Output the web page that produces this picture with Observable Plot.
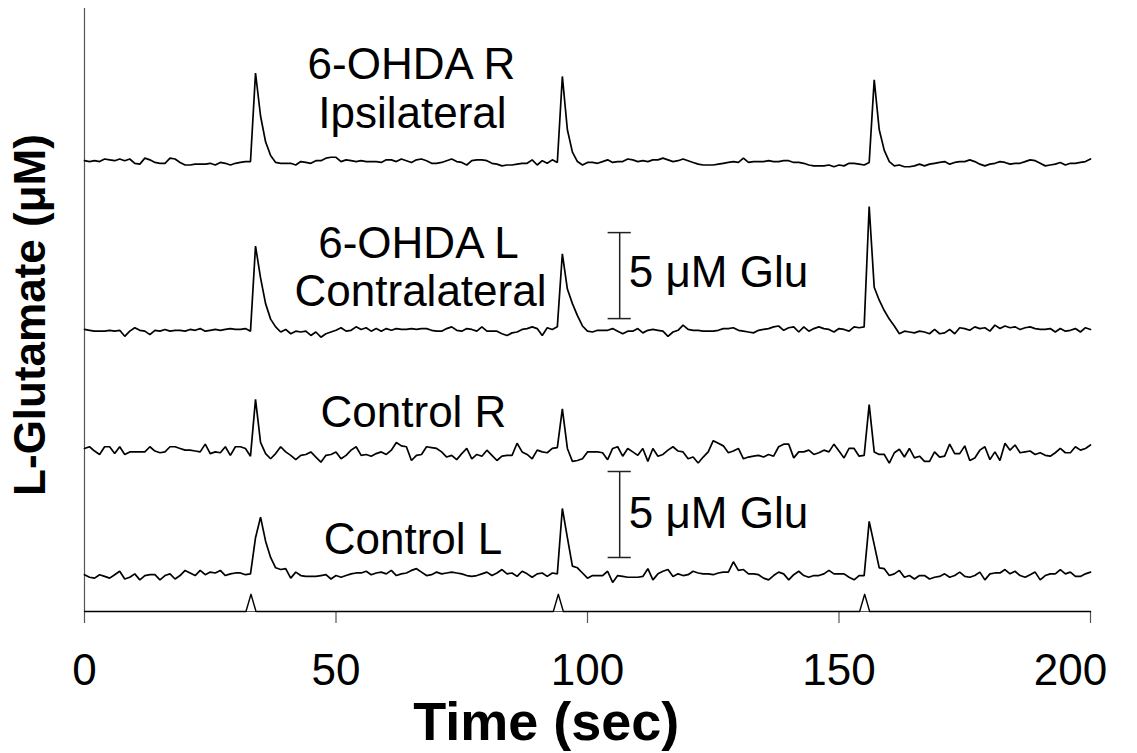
<!DOCTYPE html>
<html>
<head>
<meta charset="utf-8">
<script src="https://cdn.jsdelivr.net/npm/d3@7"></script>
<script src="https://cdn.jsdelivr.net/npm/@observablehq/plot@0.6"></script>
<style>
  html, body { margin: 0; padding: 0; background: #fff; }
  #chart { width: 1137px; height: 753px; }
</style>
</head>
<body>
<div id="chart"></div>
<script>
// L-glutamate recordings, μM above each trace's own baseline, one sample per second (0–200 s)
const time = d3.range(0, 201);

const ohdaR = [
  0.0, -0.05, 0.0, -0.05, 0.1, 0.05, 0.0, 0.1, 0.0, 0.1,
  -0.15, -0.2, 0.15, 0.05, -0.1, -0.15, -0.15, 0.15, 0.1, -0.1,
  -0.25, -0.25, -0.2, -0.2, -0.2, -0.15, -0.25, -0.1, -0.15, -0.25,
  -0.15, -0.1, -0.05, -0.05, 5.1, 2.6, 1.1, 0.3, -0.1, -0.15,
  -0.15, -0.15, -0.25, -0.05, -0.1, -0.15, 0.0, 0.0, 0.15, 0.2,
  0.2, -0.05, 0.05, 0.0, -0.05, 0.0, -0.05, -0.05, -0.05, -0.1,
  0.05, 0.05, -0.05, 0.1, 0.0, -0.1, 0.05, 0.1, 0.0, -0.15,
  -0.15, -0.1, 0.0, 0.1, -0.05, -0.1, -0.25, 0.0, 0.05, 0.05,
  0.0, -0.15, -0.2, -0.3, -0.25, -0.25, -0.2, -0.15, -0.15, 0.05,
  -0.25, 0.0, -0.15, 0.05, -0.1, 4.9, 1.8, 0.5, -0.05, -0.25,
  -0.1, -0.1, -0.15, -0.05, 0.05, -0.1, -0.05, -0.05, 0.1, 0.05,
  -0.05, 0.0, -0.05, 0.05, 0.05, 0.15, 0.05, -0.05, 0.0, 0.1,
  0.0, -0.1, -0.2, -0.25, -0.25, -0.25, -0.2, -0.15, -0.1, -0.05,
  -0.1, 0.15, -0.1, -0.05, -0.05, -0.05, 0.0, -0.05, -0.05, 0.0,
  0.0, -0.1, -0.1, -0.15, -0.25, -0.3, -0.3, -0.3, -0.25, -0.35,
  -0.25, -0.3, -0.15, -0.15, -0.2, -0.25, -0.1, 4.7, 1.8, 0.6,
  -0.05, -0.3, -0.25, -0.35, -0.35, -0.3, -0.2, -0.3, -0.2, -0.15,
  -0.1, -0.05, -0.2, -0.1, -0.05, -0.05, 0.05, -0.05, -0.2, -0.3,
  -0.2, -0.15, -0.05, -0.1, -0.2, -0.15, -0.15, -0.05, 0.05, 0.0,
  -0.15, -0.3, -0.25, -0.2, -0.1, -0.25, -0.15, -0.15, -0.1, -0.05,
  0.1
];

const ohdaL = [
  0.0, -0.05, -0.1, -0.1, -0.1, -0.05, -0.1, -0.05, -0.4, -0.1,
  0.1, -0.05, -0.1, -0.3, -0.05, -0.1, 0.0, -0.1, -0.05, -0.05,
  -0.1, 0.0, -0.05, 0.05, -0.1, -0.05, 0.0, -0.05, 0.0, 0.05,
  0.0, 0.0, 0.05, -0.1, 4.85, 3.0, 1.5, 0.6, 0.15, -0.15,
  0.0, -0.25, -0.1, -0.15, -0.1, -0.35, -0.15, -0.45, -0.25, -0.15,
  -0.05, 0.1, -0.1, -0.05, 0.15, 0.0, 0.1, -0.1, 0.05, -0.1,
  0.05, -0.05, 0.05, 0.0, 0.0, 0.05, 0.0, 0.05, 0.05, -0.05,
  -0.1, -0.1, 0.05, 0.15, -0.05, -0.1, 0.05, 0.0, -0.1, 0.15,
  -0.1, -0.1, -0.1, -0.25, -0.35, -0.2, -0.15, 0.0, 0.05, 0.15,
  0.05, -0.35, 0.1, 0.0, 0.15, 4.4, 2.35, 1.5, 0.8, 0.2,
  -0.1, -0.15, -0.05, -0.05, -0.05, 0.05, -0.1, -0.25, -0.1, -0.1,
  0.05, -0.2, -0.05, 0.0, -0.05, -0.1, -0.4, -0.15, -0.05, 0.25,
  0.0, -0.05, -0.05, -0.1, -0.1, -0.1, -0.05, 0.05, 0.05, 0.1,
  -0.05, -0.1, -0.15, -0.2, -0.05, 0.0, 0.05, 0.15, 0.2, -0.05,
  0.1, 0.15, -0.15, 0.15, -0.1, 0.05, 0.15, 0.05, 0.0, -0.15,
  0.05, 0.0, -0.1, 0.15, 0.1, 0.15, 7.15, 2.45, 1.7, 1.1,
  0.6, 0.2, -0.25, -0.1, -0.15, -0.2, -0.1, -0.15, -0.25, 0.0,
  -0.25, -0.2, 0.0, -0.25, 0.1, 0.05, -0.05, 0.15, 0.05, 0.1,
  -0.1, 0.25, 0.05, 0.2, 0.1, 0.15, 0.0, 0.1, 0.15, 0.05,
  0.0, 0.0, 0.05, -0.15, 0.05, -0.1, -0.05, 0.05, -0.15, 0.1,
  0.0
];

const controlR = [
  0.0, 0.1, -0.15, -0.35, 0.1, 0.1, -0.3, 0.1, -0.35, -0.2,
  -0.2, -0.2, -0.2, 0.1, -0.15, -0.25, -0.2, 0.1, 0.1, 0.0,
  -0.1, -0.1, -0.15, -0.2, 0.25, -0.3, -0.2, -0.25, 0.1, -0.4,
  0.1, 0.1, 0.0, -0.45, 2.85, 0.35, -0.3, -0.6, -0.3, 0.1,
  -0.2, -0.4, -0.65, -0.4, -0.35, -0.2, -0.5, -0.8, -0.4, -0.35,
  -0.2, -0.6, -0.4, -0.1, 0.1, -0.4, -0.35, -0.45, -0.3, -0.2,
  -0.35, -0.1, 0.35, 0.15, 0.1, -0.7, -0.4, -0.35, 0.1, 0.05,
  0.0, -0.2, -0.5, -0.4, -0.65, -0.3, 0.0, -0.6, -0.35, -0.45,
  -0.1, -0.4, -0.7, -0.45, -0.4, -0.4, 0.3, -0.2, -0.35, -0.6,
  -0.1, -0.2, -0.25, 0.0, 0.05, 2.3, 0.0, -0.75, -0.7, -0.6,
  -0.2, -0.2, -0.2, -0.25, -0.65, 0.0, 0.1, -0.45, 0.0, -0.2,
  -0.4, 0.0, -0.75, 0.0, -0.45, -0.35, -0.1, 0.1, -0.15, -0.2,
  -0.6, -0.5, -0.85, -0.5, -0.2, 0.45, 0.3, 0.15, -0.25, -0.15,
  0.0, -0.6, -0.5, -0.45, -0.4, -0.5, -0.35, -0.45, 0.1, 0.25,
  0.25, -0.55, -0.2, -0.2, -0.1, -0.35, -0.25, -0.1, -0.2, 0.25,
  -0.15, -0.55, 0.0, 0.0, -0.45, -0.4, 2.55, -0.2, -0.35, -0.35,
  -0.85, -0.25, -0.05, -0.5, 0.0, -0.55, -0.45, -0.75, -0.75, -0.2,
  -0.5, -0.45, 0.25, -0.3, -0.3, 0.15, -0.7, -0.55, -0.1, 0.1,
  -0.65, -0.2, -0.7, 0.3, -0.1, 0.2, -0.25, -0.2, -0.15, -0.35,
  -0.25, -0.4, -0.45, -0.25, 0.0, -0.25, -0.25, 0.1, -0.1, 0.0,
  0.2
];

const controlL = [
  0.05, -0.1, -0.15, 0.05, -0.05, -0.15, 0.05, 0.25, -0.2, -0.1,
  0.1, -0.25, 0.0, 0.05, 0.05, -0.25, 0.0, 0.1, -0.2, 0.0,
  0.3, 0.15, 0.0, 0.3, 0.05, 0.2, 0.15, 0.3, 0.0, 0.1,
  0.15, 0.15, 0.05, 0.1, 2.2, 3.4, 2.0, 1.05, 0.45, 0.35,
  0.4, -0.15, 0.2, 0.0, -0.05, -0.05, -0.05, 0.0, 0.05, -0.2,
  0.0, -0.1, 0.0, 0.1, 0.15, 0.15, 0.25, 0.05, 0.15, 0.2,
  0.1, 0.3, 0.0, 0.1, 0.15, 0.3, 0.4, 0.2, 0.0, 0.05,
  0.2, 0.1, 0.15, 0.2, 0.15, 0.1, 0.0, -0.05, 0.0, 0.1,
  0.2, 0.0, 0.15, 0.35, 0.1, 0.15, -0.05, 0.25, 0.1, -0.1,
  0.1, 0.15, -0.05, 0.15, 0.1, 3.9, 2.2, 0.55, 0.45, 0.15,
  -0.15, 0.0, 0.0, 0.0, 0.25, -0.4, 0.0, -0.05, -0.1, -0.1,
  -0.1, -0.05, 0.4, -0.25, 0.1, 0.25, 0.35, -0.05, 0.1, 0.0,
  0.05, 0.25, 0.15, 0.1, 0.1, 0.05, 0.15, 0.2, 0.2, 0.8,
  0.3, 0.35, 0.1, 0.1, 0.05, -0.15, -0.25, 0.0, 0.2, 0.1,
  -0.25, 0.05, 0.25, 0.0, -0.1, 0.0, 0.0, 0.1, 0.3, 0.1,
  0.1, 0.1, -0.1, -0.25, 0.0, 0.0, 3.15, 1.8, 0.45, 0.4,
  0.0, 0.1, 0.3, -0.1, 0.0, -0.2, 0.0, 0.0, -0.2, -0.1,
  -0.05, 0.1, -0.1, 0.0, 0.2, -0.05, -0.1, 0.0, 0.2, -0.25,
  0.1, 0.15, 0.15, 0.35, 0.1, 0.25, 0.0, -0.1, 0.05, 0.2,
  -0.25, 0.0, 0.1, 0.1, 0.35, 0.1, 0.2, -0.05, -0.05, 0.1,
  0.2
];

// stimulus marker trace drawn along the time axis
const stimTime  = [0, 32.1, 33.1, 34.1, 93.2, 94.2, 95.2, 154.1, 155.1, 156.1, 200];
const stimLevel = [0, 0, 1, 0, 0, 1, 0, 0, 1, 0, 0];

const traceNames = ["6-OHDA R", "6-OHDA L", "Control R", "Control L"];
const timeTicks = [0, 50, 100, 150, 200];
const scaleBarUM = 5;
const scaleBarText = "5 μM Glu";

// ---- layout --------------------------------------------------------------
const traceOffsets = [26.21, 16.40, 9.48, 2.09];   // where each trace sits (μM above axis)
const series = [ohdaR, ohdaL, controlR, controlL];

const rows = series.flatMap((vals, k) =>
  vals.map((v, i) => ({trace: traceNames[k], t: time[i], y: v + traceOffsets[k]})));

const stimRows = stimTime.map((t, i) => ({t, y: stimLevel[i]}));

const labels = [
  {text: "6-OHDA R",      t: 65.0, v: 30.99},
  {text: "Ipsilateral",   t: 65.2, v: 28.14},
  {text: "6-OHDA L",      t: 66.4, v: 20.58},
  {text: "Contralateral", t: 66.8, v: 17.79},
  {text: "Control R",     t: 65.4, v: 10.70},
  {text: "Control L",     t: 65.3, v: 3.37}
];

const bars = [{t: 106.4, y: 17.03, lv: 18.84}, {t: 106.4, y: 3.14, lv: 4.88}];
const barCaps = bars.flatMap(b => [b.y, b.y + scaleBarUM]);

const font = "'Liberation Sans', Arial, Helvetica, sans-serif";
const lastTick = timeTicks[timeTicks.length - 1];

const chart = Plot.plot({
  width: 1137,
  height: 753,
  marginLeft: 84,
  marginRight: 47,
  marginTop: 8,
  marginBottom: 142,
  x: {domain: [0, 200], label: null},
  y: {domain: [0, 35.06], axis: null},
  style: {fontFamily: font, fontSize: "44px", color: "black", background: "white", overflow: "visible"},
  marks: [
    // axis lines
    Plot.ruleX([0], {stroke: "#555", strokeWidth: 1.2}),
    Plot.ruleY([0], {stroke: "#555", strokeWidth: 1.2}),
    // time axis: ticks everywhere, the last label pulled inside the chart edge
    Plot.axisX({
      ticks: timeTicks, tickSize: 12, tickPadding: 30,
      tickFormat: d => d === lastTick ? "" : d3.format("d")(d),
      stroke: "#555", strokeWidth: 1.2, fill: "black", fontSize: 44, label: null
    }),
    Plot.axisX({
      ticks: [lastTick], tickSize: 0, tickPadding: 42, dx: -20,
      tickFormat: d3.format("d"), fill: "black", fontSize: 44, label: null
    }),
    // stimulus markers
    Plot.line(stimRows, {x: "t", y: "y", stroke: "black", strokeWidth: 1.4}),
    // recordings
    Plot.line(rows, {x: "t", y: "y", z: "trace", stroke: "black", strokeWidth: 1.7, strokeLinejoin: "miter"}),
    // calibration bars
    Plot.ruleX(bars, {x: "t", y1: "y", y2: d => d.y + scaleBarUM, stroke: "#222", strokeWidth: 1.5}),
    Plot.ruleY(barCaps, {y: d => d, x1: 104.1, x2: 108.7, stroke: "#222", strokeWidth: 1.5}),
    Plot.text(bars, {x: 108.2, y: "lv", text: () => scaleBarText, textAnchor: "start", lineAnchor: "bottom", fontSize: 44, fill: "black"}),
    // trace names
    Plot.text(labels, {x: "t", y: "v", text: "text", textAnchor: "middle", lineAnchor: "bottom", fontSize: 44, fill: "black"}),
    // axis titles
    Plot.text(["Time (sec)"], {x: 91.8, frameAnchor: "bottom", dy: 128, textAnchor: "middle", lineAnchor: "bottom", fontSize: 54, fontWeight: "bold", fill: "black"}),
    Plot.text(["L-Glutamate (μM)"], {frameAnchor: "left", rotate: -90, dx: -40, dy: 5, textAnchor: "middle", lineAnchor: "bottom", fontSize: 44, fontWeight: "bold", fill: "black"})
  ]
});

document.getElementById("chart").appendChild(chart);
</script>
</body>
</html>
